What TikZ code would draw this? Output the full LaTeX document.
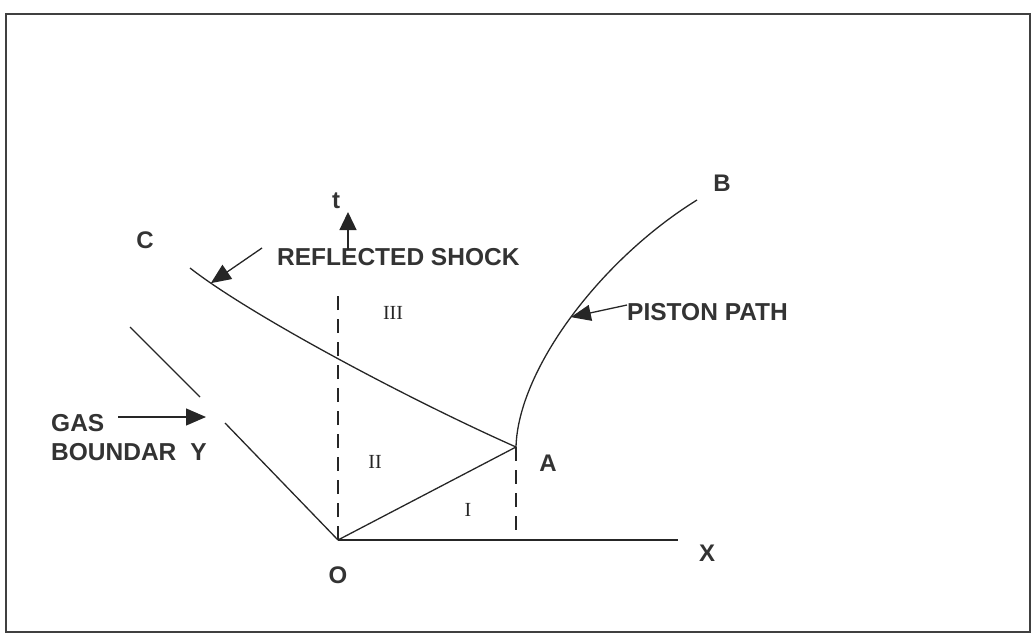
\documentclass[tikz,border=0pt]{standalone}
\usepackage{fontspec}
\setmainfont{Liberation Sans}
\newfontfamily\numfont{Liberation Serif}
\usetikzlibrary{arrows.meta}
\begin{document}
\begin{tikzpicture}[x=1pt,y=-1pt,
  curve/.style={line width=1.3pt,draw=black!85},
  dashline/.style={line width=1.4pt,draw=black!85,dash pattern=on 14pt off 9pt},
  pointer/.style={line width=1.3pt,draw=black!85,-{Triangle[length=20pt,width=17pt]}},
  lbl/.style={font=\fontsize{24}{26}\selectfont\bfseries,text=black!80,inner sep=0pt},
  biglbl/.style={font=\fontsize{24.5}{26}\selectfont\bfseries,text=black!80,inner sep=0pt,anchor=west},
  region/.style={font=\fontsize{20}{22}\numfont\selectfont,text=black!85,inner sep=0pt}]
\useasboundingbox (0,0) rectangle (1033,634);
\draw[line width=1.8pt,draw=black!75] (6,14) rectangle (1030,632);
% points
\coordinate (O) at (338,540);
\coordinate (A) at (516,447);
\coordinate (B) at (697,200);
\coordinate (Xend) at (678,540);
\coordinate (Cstart) at (190,268);
\coordinate (Ttop) at (338,290);
\coordinate (Abase) at (516,540);
\coordinate (G1) at (225,423);
\coordinate (G2) at (200,397);
\coordinate (G3) at (130,327);
% axes and lines
\draw[curve] (O) -- (Xend);
\draw[dashline] (O) -- (Ttop);
\draw[dashline] (A) -- (Abase);
\draw[curve] (O) -- (A);
\draw[curve] (A) .. controls (518,370) and (600,260) .. (B) coordinate[pos=0.5] (pp);
\draw[curve] (Cstart) .. controls (250,315) and (410,400) .. (A) coordinate[pos=0.1] (rs);
\draw[curve] (O) -- (G1);
\draw[curve] (G2) -- (G3);
% labels
\node[lbl] (Clbl) at (145,240) {C};
\node[lbl] (tlbl) at (336,201) {t};
\node[lbl] (Blbl) at (722,183) {B};
\node[lbl] (Albl) at (548,463) {A};
\node[lbl] (Xlbl) at (707,553) {X};
\node[lbl] (Olbl) at (338,575) {O};
\node[biglbl] (rslbl) at (277,257) {REFLECTED SHOCK};
\node[biglbl] (pplbl) at (627,312) {PISTON PATH};
\node[biglbl] (gas) at (51,423) {GAS};
\node[biglbl] (bnd) at (51,452) {BOUNDAR\hspace{14pt}Y};
\node[region] (r3) at (393,313) {III};
\node[region] (r2) at (375,462) {II};
\node[region] (r1) at (468,510) {I};
% pointers
\coordinate (tarrS) at (348,250);
\coordinate (tarrE) at (348,212);
\draw[pointer,-{Triangle[length=18pt,width=17pt]}] (tarrS) -- (tarrE);
\coordinate (rsS) at (262,248);
\draw[pointer] (rsS) -- (rs);
\coordinate (ppS) at (627,305);
\draw[pointer,-{Triangle[length=20pt,width=16pt]}] (ppS) -- (pp);
\coordinate (gS) at (118,417);
\coordinate (gE) at (206,417);
\draw[pointer] (gS) -- (gE);
\end{tikzpicture}
\end{document}
